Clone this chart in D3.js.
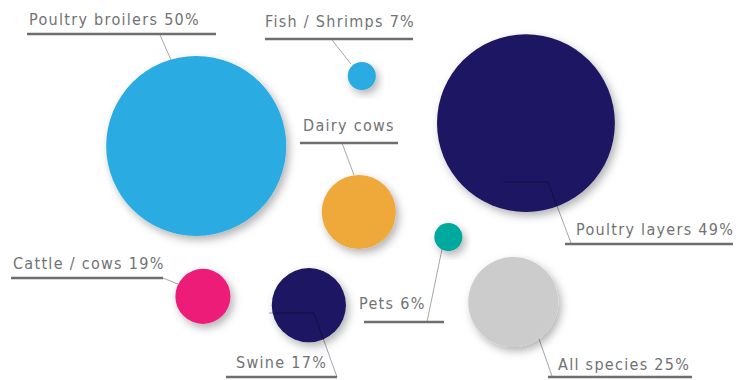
<!DOCTYPE html>
<html>
<head>
<meta charset="utf-8">
<script src="https://cdn.jsdelivr.net/npm/d3@7"></script>
<style>
    html, body { margin: 0; padding: 0; background: #fff; }
    #chart { width: 746px; height: 380px; }
    .label { font-family: "Liberation Sans Narrow", "DejaVu Sans Condensed", sans-serif; font-size: 16px; letter-spacing: 1.3px; fill: #717275; }
</style>
</head>
<body>
<div id="chart"></div>
<script>
// bubble data
const categories = ['Poultry broilers', 'Fish / Shrimps', 'Poultry layers', 'Dairy cows', 'Pets', 'Cattle / cows', 'Swine', 'All species'];
const shares = [50, 7, 49, null, 6, 19, 17, 25];
const bubbleSize = [50, 7.8, 49.4, 20.6, 7.8, 15.3, 20.6, 25];
// bubble centres in chart units (0-100 across, 0-100 down)
const bubbleX = [26.3, 48.5, 70.5, 48.1, 60.1, 27.2, 41.4, 68.8];
const bubbleY = [38.4, 20, 32.4, 55.8, 62.4, 78, 80.3, 79.5];
const colors = ['#29abe2', '#29abe2', '#1b1464', '#efa93b', '#00a99d', '#ed1e79', '#1b1464', '#cccccc'];

// label placement: text start/baseline, underline span, leader points
const labelLayout = [
    { tx: 29, ty: 25, ux: [27, 216], uy: 34, leader: [[160, 35], [171, 60]] },
    { tx: 265, ty: 27, ux: [265, 413], uy: 39, leader: [[332, 40], [351, 64]] },
    { tx: 576, ty: 235, ux: [565, 733], uy: 244, leader: [[571, 243], [548, 182], [503, 182]] },
    { tx: 303, ty: 131, ux: [300, 398], uy: 143, leader: [[342, 143], [354, 175]] },
    { tx: 359, ty: 309, ux: [364, 444], uy: 322, leader: [[427, 322], [442, 249]] },
    { tx: 13, ty: 269, ux: [11, 163], uy: 278, leader: [[163, 278], [178, 284]] },
    { tx: 236, ty: 368, ux: [226, 337], uy: 377, leader: [[337, 377], [314, 313], [269, 313]] },
    { tx: 558, ty: 370, ux: [548, 692], uy: 377, leader: [[552, 376], [539, 339]] }
];

const width = 746;
const height = 380;

const svg = d3.select('#chart')
    .append('svg')
    .attr('width', width)
    .attr('height', height);

const defs = svg.append('defs');
const shadow = defs.append('filter')
    .attr('id', 'shadow')
    .attr('x', '-30%').attr('y', '-30%')
    .attr('width', '160%').attr('height', '160%');
shadow.append('feDropShadow')
    .attr('dx', 3)
    .attr('dy', 4)
    .attr('stdDeviation', 4)
    .attr('flood-color', '#000')
    .attr('flood-opacity', 0.3);

const x = d3.scaleLinear().domain([0, 100]).range([0, width]);
const y = d3.scaleLinear().domain([0, 100]).range([0, height]);
const r = d3.scaleLinear().domain([0, 50]).range([0, 90]);

const rows = categories.map((c, i) => ({
    name: c,
    share: shares[i],
    size: bubbleSize[i],
    cx: bubbleX[i],
    cy: bubbleY[i],
    color: colors[i],
    layout: labelLayout[i]
}));

svg.selectAll('.bubble')
    .data(rows)
    .enter()
    .append('circle')
    .attr('class', 'bubble')
    .attr('cx', d => x(d.cx))
    .attr('cy', d => y(d.cy))
    .attr('r', d => r(d.size))
    .attr('fill', d => d.color)
    .attr('filter', 'url(#shadow)');

const line = d3.line();

svg.selectAll('.leader')
    .data(rows)
    .enter()
    .append('path')
    .attr('class', 'leader')
    .attr('d', d => line(d.layout.leader))
    .attr('fill', 'none')
    .attr('stroke', '#000')
    .attr('stroke-opacity', 0.35)
    .attr('stroke-width', 1);

svg.selectAll('.underline')
    .data(rows)
    .enter()
    .append('line')
    .attr('class', 'underline')
    .attr('x1', d => d.layout.ux[0])
    .attr('x2', d => d.layout.ux[1])
    .attr('y1', d => d.layout.uy)
    .attr('y2', d => d.layout.uy)
    .attr('stroke', '#6d6e71')
    .attr('stroke-width', 2.5);

svg.selectAll('.label')
    .data(rows)
    .enter()
    .append('text')
    .attr('class', 'label')
    .attr('x', d => d.layout.tx)
    .attr('y', d => d.layout.ty)
    .text(d => d.share == null ? d.name : `${d.name} ${d.share}%`);
</script>
</body>
</html>
